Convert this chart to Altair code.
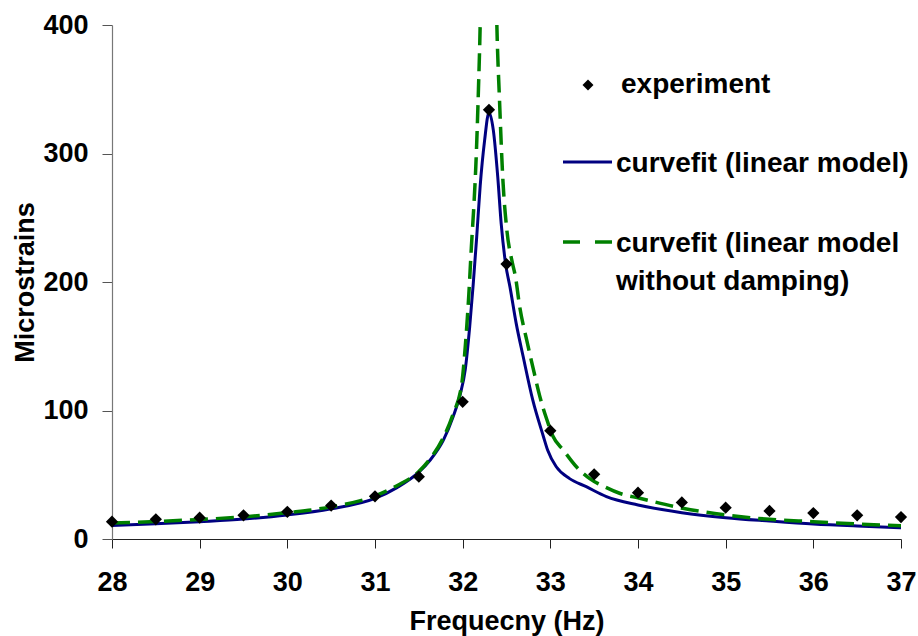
import altair as alt
import pandas as pd

# Measured strain response around the first resonance
exp_freq = [28, 28.5, 29, 29.5, 30, 30.5, 31, 31.5, 32, 32.3, 32.5, 33,
            33.5, 34, 34.5, 35, 35.5, 36, 36.5, 37]
exp_strain = [13.5, 15.3, 16.6, 18.4, 21.2, 26.0, 33.2, 48.5, 106.8, 334,
              214, 84.3, 50.3, 36.0, 28.5, 24.4, 21.8, 20.2, 18.4, 17.1]

# Curve fit, linear model with damping
fit_freq = [28.0, 28.5, 29.0, 29.5, 30.0, 30.5, 31.0, 31.25, 31.5, 31.63,
            31.78, 31.89, 31.97, 32.03, 32.08, 32.12, 32.16, 32.20, 32.25,
            32.30, 32.35, 32.40, 32.44, 32.49, 32.54, 32.61, 32.69, 32.80,
            32.92, 32.97, 33.07, 33.22, 33.41, 33.64, 34.0, 34.5, 35.0,
            35.5, 36.0, 36.5, 37.0]
fit_strain = [10.5, 11.8, 13.5, 15.5, 18.7, 23.5, 31.6, 40.0, 52.0, 61.5,
              77.0, 95.0, 112.0, 132.0, 165.0, 198.0, 235.0, 275.0, 310.0,
              332.0, 318.0, 282.0, 245.0, 214.0, 196.0, 168.0, 142.0, 108.0,
              80.0, 69.0, 56.0, 47.0, 40.7, 33.0, 26.5, 20.5, 16.6,
              14.0, 11.7, 10.1, 8.8]

# Curve fit, linear model without damping (unbounded at resonance)
undamped_freq = [28.0, 28.5, 29.0, 29.5, 30.0, 30.5, 31.0, 31.25, 31.5,
                 31.63, 31.78, 31.89, 31.99, 32.03, 32.07, 32.10, 32.13,
                 32.15, 32.18, 32.20, 32.29, 32.39, 32.42, 32.46, 32.50,
                 32.57, 32.60, 32.65, 32.73, 32.80, 32.88, 32.96, 33.03,
                 33.15, 33.30, 33.45, 33.64, 33.79, 34.02, 34.51, 35.01,
                 35.5, 36.0, 36.5, 37.0]
undamped_strain = [12.5, 13.6, 15.2, 17.2, 20.5, 25.0, 33.5, 41.5, 52.5,
                   62.5, 79.0, 97.0, 121.0, 150.0, 190.0, 228.0, 262.0,
                   290.0, 350.0, 401.0, 1000.0, 400.0, 342.0, 278.0, 243.0,
                   214.0, 205.0, 181.0, 155.0, 134.0, 111.0, 93.0, 80.0,
                   69.0, 56.0, 47.0, 40.0, 35.6, 31.7, 23.9, 18.7,
                   15.3, 13.5, 11.7, 10.4]

x_ticks = [28, 29, 30, 31, 32, 33, 34, 35, 36, 37]
y_ticks = [0, 100, 200, 300, 400]

FONT = "Liberation Sans"
FS = 27       # axis labels and titles
LEG_FS = 28   # legend entries
W, H = 789, 514

exp_df = pd.DataFrame({"freq": exp_freq, "strain": exp_strain})
fit_df = pd.DataFrame({"freq": fit_freq, "strain": fit_strain})
und_df = pd.DataFrame({"freq": undamped_freq, "strain": undamped_strain})

x_scale = alt.Scale(domain=[28, 37], nice=False, zero=False)
y_scale = alt.Scale(domain=[0, 400], nice=False)

x_axis = alt.Axis(
    values=x_ticks, format="d", title="Frequecny (Hz)", grid=False,
    tickSize=9, tickColor="#222", domainColor="#222", domainWidth=1.2,
    labelPadding=21, labelFlush=False, labelOverlap=False,
    labelFont=FONT, labelFontSize=FS, labelFontWeight="bold", labelColor="black",
    titleFont=FONT, titleFontSize=FS, titleFontWeight="bold", titleColor="black",
    titleBaseline="alphabetic", titleY=90,
)
y_axis = alt.Axis(
    values=y_ticks, format="d", title="Microstrains", grid=False,
    tickSize=10, tickColor="#555", domainColor="#777", domainWidth=1.2,
    labelPadding=14, labelOverlap=False,
    labelFont=FONT, labelFontSize=FS, labelFontWeight="bold", labelColor="black",
    titleFont=FONT, titleFontSize=FS, titleFontWeight="bold", titleColor="black",
    titleAngle=270, titleAlign="center", titleBaseline="alphabetic",
    titleX=-79, titleY=H / 2,
)

x_enc = alt.X("freq:Q", scale=x_scale, axis=x_axis)
y_enc = alt.Y("strain:Q", scale=y_scale, axis=y_axis)

fit_line = alt.Chart(fit_df).mark_line(
    color="#000080", strokeWidth=3, interpolate="monotone", clip=True
).encode(x=x_enc, y=y_enc)

undamped_line = alt.Chart(und_df).mark_line(
    color="#008000", strokeWidth=3.5, strokeDash=[18, 8],
    interpolate="monotone", clip=True
).encode(x="freq:Q", y="strain:Q")

points = alt.Chart(exp_df).mark_point(
    shape="diamond", filled=True, color="black", size=150, opacity=1
).encode(x="freq:Q", y="strain:Q")

# Legend, drawn in the upper right of the plot area
one = pd.DataFrame({"k": [0]})
leg_point = alt.Chart(one).mark_point(
    shape="diamond", filled=True, color="black", size=120, opacity=1
).encode(x=alt.value(476), y=alt.value(60))
leg_text1 = alt.Chart(one).mark_text(
    text="experiment", align="left", baseline="alphabetic",
    font=FONT, fontSize=LEG_FS, fontWeight="bold", color="black"
).encode(x=alt.value(509), y=alt.value(68))
leg_line2 = alt.Chart(one).mark_rule(color="#000080", strokeWidth=3).encode(
    x=alt.value(451), x2=alt.value(500), y=alt.value(137)
)
leg_text2 = alt.Chart(one).mark_text(
    text="curvefit (linear model)", align="left", baseline="alphabetic",
    font=FONT, fontSize=LEG_FS, fontWeight="bold", color="black"
).encode(x=alt.value(504), y=alt.value(147))
leg_line3 = alt.Chart(one).mark_rule(
    color="#008000", strokeWidth=3.5, strokeDash=[17, 15]
).encode(x=alt.value(451), x2=alt.value(500), y=alt.value(217))
leg_text3 = alt.Chart(one).mark_text(
    text=["curvefit (linear model", "without damping)"], align="left",
    baseline="alphabetic", lineHeight=38,
    font=FONT, fontSize=LEG_FS, fontWeight="bold", color="black"
).encode(x=alt.value(504), y=alt.value(227))

chart = alt.layer(
    fit_line, undamped_line, points,
    leg_point, leg_text1, leg_line2, leg_text2, leg_line3, leg_text3,
).properties(
    width=W, height=H,
    autosize=alt.AutoSizeParams(type="none"),
    padding={"left": 112, "top": 25, "right": 17, "bottom": 97},
    background="white",
).configure_view(stroke=None)

chart.save("out.html", embed_options={"renderer": "svg", "actions": False})
